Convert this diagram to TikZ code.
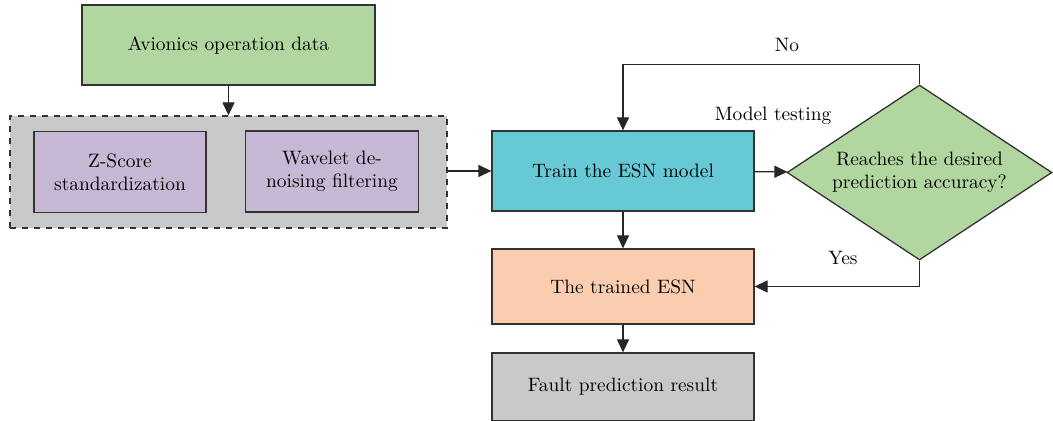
\documentclass[tikz,border=0pt]{standalone}
\usepackage{tikz}
\usetikzlibrary{arrows.meta,shapes.geometric,positioning}
\definecolor{datagreen}{HTML}{B2D69F}
\definecolor{panelgray}{HTML}{C8C9CB}
\definecolor{stepviolet}{HTML}{C7B9D5}
\definecolor{traincyan}{HTML}{67C9D6}
\definecolor{trainedorange}{HTML}{FACDAE}

\begin{document}
\begin{tikzpicture}[x=0.5pt, y=-0.5pt,
	box/.style={draw=black!80, line width=0.65pt, minimum width=131pt, minimum height=40pt,
		align=center, inner sep=2pt, font=\fontsize{9.7}{11.5}\selectfont},
	lbl/.style={inner sep=0pt, font=\fontsize{9.7}{11.5}\selectfont},
	arr/.style={-{Triangle[length=6.5pt,width=6pt]}, line width=0.65pt, draw=black!85}]
	\useasboundingbox (0,0) rectangle (1053,421);
	% preprocessing panel
	\node[draw=black!80, dashed, line width=0.65pt, fill=panelgray,
		minimum width=218.5pt, minimum height=56pt] (prep) at (228.5,172) {};
	\node[box, fill=datagreen, minimum width=146.5pt] (data) at (228.5,45) {Avionics operation data};
	\node[box, fill=stepviolet, minimum width=86pt, minimum height=40.5pt] (zscore) at (120,172) {Z-Score\\standardization};
	\node[box, fill=stepviolet, minimum width=86.5pt, minimum height=40.5pt] (wavelet) at (332,171.5) {Wavelet de-\\noising filtering};
	% model part
	\node[box, fill=traincyan] (train) at (623,171) {Train the ESN model};
	\node[box, diamond, fill=datagreen, aspect=1.5, inner sep=0pt,
		minimum width=132.5pt, minimum height=87.5pt] (check) at (919.5,172.5)
		{Reaches the desired\\prediction accuracy?};
	\node[box, fill=trainedorange, minimum height=37.5pt] (trained) at (623,286.5) {The trained ESN};
	\node[box, fill=panelgray, minimum height=34pt] (fault) at (623,387) {Fault prediction result};
	\node[lbl] (nolbl) at (787,45) {No};
	\node[lbl] (testlbl) at (773,116) {Model testing};
	\node[lbl] (yeslbl) at (843,258) {Yes};
	% connectors
	\draw[arr] (data) -- (prep);
	\draw[arr] (prep.east |- train) -- (train);
	\draw[arr] (train) -- (check);
	\draw[arr] (check.north) -- ++(0,-20) -| (train.north);
	\draw[arr] (check.south) |- (trained.east);
	\draw[arr] (train) -- (trained);
	\draw[arr] (trained) -- (fault);
\end{tikzpicture}
\end{document}
